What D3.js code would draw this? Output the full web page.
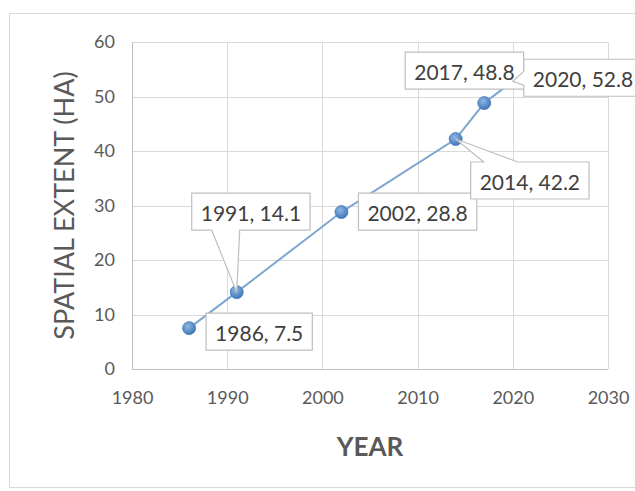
<!DOCTYPE html>
<html>
<head>
<meta charset="utf-8">
<script src="https://cdn.jsdelivr.net/npm/d3@7/dist/d3.min.js"></script>
<style>
  html, body { margin: 0; padding: 0; background: #ffffff; }
  svg { display: block; }
</style>
</head>
<body>
<svg id="chart" width="635" height="491"></svg>
<script>
// Spatial extent (ha) by survey year
const years = [1986, 1991, 2002, 2014, 2017, 2020];
const extent = [7.5, 14.1, 28.8, 42.2, 48.8, 52.8];
const xTicks = [1980, 1990, 2000, 2010, 2020, 2030];
const yTicks = [0, 10, 20, 30, 40, 50, 60];
const xTitle = "YEAR";
const yTitle = "SPATIAL EXTENT (HA)";

// Callout placement for each data label: box offset from its point,
// and where the wedge meets the box (null = plain box)
const calloutLayout = [
  { dx: 17,  dy: -15, wedge: null },
  { dx: -45, dy: -99, wedge: { side: "bottom", a: 20, b: 48 } },
  { dx: 17,  dy: -19, wedge: null },
  { dx: 15,  dy: 23,  wedge: { side: "top", a: 13, b: 47 } },
  { dx: -79, dy: -51, wedge: null },
  { dx: 11,  dy: -22, wedge: { side: "left", a: 12, b: 26 } }
];

const svg = d3.select("#chart");
const plot = { left: 132, right: 608, top: 42, bottom: 369 };

const x = d3.scaleLinear().domain([1980, 2030]).range([plot.left, plot.right]);
const y = d3.scaleLinear().domain([0, 60]).range([plot.bottom, plot.top]);

const textColor = "#595959";
const gridColor = "#d9d9d9";

// chart frame
svg.append("rect")
  .attr("x", 9.5).attr("y", 13.5)
  .attr("width", 640).attr("height", 474)
  .attr("fill", "#ffffff")
  .attr("stroke", "#d9d9d9").attr("stroke-width", 1);

// gridlines
const gridX = svg.append("g")
  .attr("transform", `translate(0,${plot.bottom})`)
  .call(d3.axisBottom(x).tickValues(xTicks).tickSize(-(plot.bottom - plot.top)).tickFormat(""));
gridX.select(".domain").remove();
gridX.selectAll("line").attr("stroke", gridColor).attr("shape-rendering", "crispEdges");

const gridY = svg.append("g")
  .attr("transform", `translate(${plot.left},0)`)
  .call(d3.axisLeft(y).tickValues(yTicks).tickSize(-(plot.right - plot.left)).tickFormat(""));
gridY.select(".domain").remove();
gridY.selectAll("line").attr("stroke", gridColor).attr("shape-rendering", "crispEdges");

// axis lines
svg.append("line")
  .attr("x1", plot.left).attr("x2", plot.left)
  .attr("y1", plot.top).attr("y2", plot.bottom)
  .attr("stroke", "#bfbfbf").attr("shape-rendering", "crispEdges");
svg.append("line")
  .attr("x1", plot.left).attr("x2", plot.right)
  .attr("y1", plot.bottom).attr("y2", plot.bottom)
  .attr("stroke", "#bfbfbf").attr("shape-rendering", "crispEdges");

// tick labels
const axX = svg.append("g")
  .attr("transform", `translate(0,${plot.bottom})`)
  .call(d3.axisBottom(x).tickValues(xTicks).tickSize(0).tickPadding(22).tickFormat(d3.format("d")));
axX.select(".domain").remove();
axX.selectAll("text")
  .attr("fill", textColor)
  .style("font-family", "Lato, sans-serif")
  .style("font-size", "18px");

const axY = svg.append("g")
  .attr("transform", `translate(${plot.left},0)`)
  .call(d3.axisLeft(y).tickValues(yTicks).tickSize(0).tickPadding(17).tickFormat(d3.format("d")));
axY.select(".domain").remove();
axY.selectAll("text")
  .attr("fill", textColor)
  .style("font-family", "Lato, sans-serif")
  .style("font-size", "18px");

// axis titles
svg.append("text")
  .attr("x", (plot.left + plot.right) / 2)
  .attr("y", 446)
  .attr("text-anchor", "middle")
  .attr("dominant-baseline", "central")
  .attr("fill", textColor)
  .style("font-family", "Lato, sans-serif")
  .style("font-size", "26px")
  .style("font-weight", "bold")
  .text(xTitle);

svg.append("text")
  .attr("transform", `translate(63,${(plot.top + plot.bottom) / 2}) rotate(-90)`)
  .attr("text-anchor", "middle")
  .attr("dominant-baseline", "central")
  .attr("fill", textColor)
  .style("font-family", "Lato, sans-serif")
  .style("font-size", "27px")
  .text(yTitle);

// series
const data = years.map((yr, i) => ({ year: yr, value: extent[i], layout: calloutLayout[i] }));

const defs = svg.append("defs");
const grad = defs.append("radialGradient")
  .attr("id", "ball").attr("cx", "40%").attr("cy", "35%").attr("r", "65%");
grad.append("stop").attr("offset", "0%").attr("stop-color", "#8fb8e6");
grad.append("stop").attr("offset", "100%").attr("stop-color", "#3f77b8");

svg.append("path")
  .datum(data)
  .attr("fill", "none")
  .attr("stroke", "#7ea6cf")
  .attr("stroke-width", 2)
  .attr("d", d3.line().x(d => x(d.year)).y(d => y(d.value)));

svg.append("g").selectAll("circle")
  .data(data)
  .join("circle")
  .attr("cx", d => x(d.year))
  .attr("cy", d => y(d.value))
  .attr("r", 6.5)
  .attr("fill", "url(#ball)")
  .attr("stroke", "#4a7fbd")
  .attr("stroke-width", 0.8);

// data label callouts
const labels = svg.append("g");
const boxH = 37, padX = 9;
data.forEach(d => {
  const px = x(d.year), py = y(d.value);
  const L = d.layout;
  const g = labels.append("g");
  const t = g.append("text")
    .attr("fill", "#404040")
    .style("font-family", "Lato, sans-serif")
    .style("font-size", "21px")
    .attr("dominant-baseline", "central")
    .text(`${d.year}, ${d.value}`);
  const tw = t.node().getComputedTextLength();
  const bx = px + L.dx, by = py + L.dy, bw = tw + padX * 2;
  t.attr("x", bx + padX).attr("y", by + boxH / 2 + 1);

  // outline path: box, with a wedge pointing back to the marker
  let pts;
  const w = L.wedge;
  if (!w) {
    pts = [[bx, by], [bx + bw, by], [bx + bw, by + boxH], [bx, by + boxH]];
  } else if (w.side === "bottom") {
    pts = [[bx, by], [bx + bw, by], [bx + bw, by + boxH],
           [bx + w.b, by + boxH], [px, py], [bx + w.a, by + boxH], [bx, by + boxH]];
  } else if (w.side === "top") {
    pts = [[bx, by], [bx + w.a, by], [px, py], [bx + w.b, by],
           [bx + bw, by], [bx + bw, by + boxH], [bx, by + boxH]];
  } else {
    pts = [[bx, by], [bx + bw, by], [bx + bw, by + boxH], [bx, by + boxH],
           [bx, by + w.b], [px, py], [bx, by + w.a]];
  }
  g.insert("path", "text")
    .attr("d", "M" + pts.map(p => p.join(",")).join("L") + "Z")
    .attr("fill", "#ffffff")
    .attr("stroke", "#bfbfbf")
    .attr("stroke-width", 1.2);
});
</script>
</body>
</html>
